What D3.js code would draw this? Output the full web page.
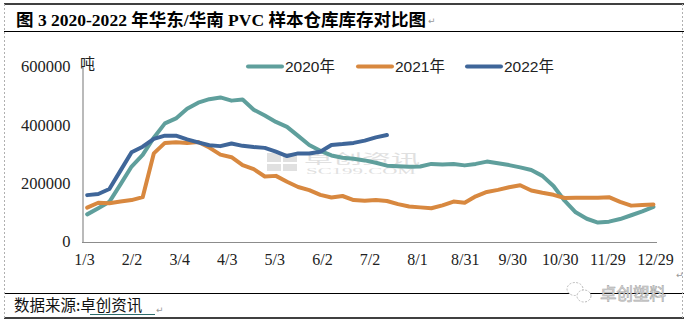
<!DOCTYPE html>
<html><head><meta charset="utf-8">
<script src="https://cdn.jsdelivr.net/npm/d3@7"></script>
<style>
html,body{margin:0;padding:0;background:#fff;}
svg{display:block;}
</style></head>
<body>
<svg id="chart" width="688" height="323"></svg>
<script>
// ---- data ----
const weekDates = ["1/5","1/12","1/19","1/26","2/2","2/9","2/16","2/23","3/2","3/9","3/16","3/23","3/30","4/6","4/13","4/20","4/27","5/4","5/11","5/18","5/25","6/1","6/8","6/15","6/22","6/29","7/6","7/13","7/20","7/27","8/3","8/10","8/17","8/24","8/31","9/7","9/14","9/21","9/28","10/5","10/12","10/19","10/26","11/2","11/9","11/16","11/23","11/30","12/7","12/14","12/21","12/28"];
const tickLabels = ["1/3","2/2","3/4","4/3","5/3","6/2","7/2","8/1","8/31","9/30","10/30","11/29","12/29"];
const yTicks = [0,200000,400000,600000];
const seriesNames = ["2020年","2021年","2022年"];
const values2020 = [93000,114000,136000,196000,257000,297000,356000,405000,422000,455000,476000,488000,494000,483000,487000,452000,432000,410000,393000,362000,331000,311000,295000,287000,284000,278000,270000,260000,258000,256000,257000,266000,264000,266000,261000,266000,274000,268000,262000,254000,245000,225000,190000,140000,100000,78000,65000,68000,77000,90000,103000,119000];
const values2021 = [116000,133000,131000,137000,142000,152000,302000,338000,340000,338000,341000,322000,298000,289000,262000,248000,223000,225000,205000,187000,176000,160000,151000,156000,142000,140000,142000,139000,128000,120000,117000,114000,124000,137000,133000,155000,170000,177000,186000,193000,175000,167000,160000,149000,150000,150000,150000,152000,136000,123000,125000,127000];
const values2022 = [159000,163000,180000,243000,306000,325000,352000,363000,363000,350000,340000,330000,327000,336000,328000,324000,321000,308000,293000,302000,302000,308000,331000,334000,338000,346000,357000,365000];
const colors = ["#5f9f9c","#d8883f","#3f6699"];

// ---- setup ----
const svg = d3.select("#chart");
const parse = s => d3.timeParse("%Y/%m/%d")("2021/" + s.split("/")[0] + "/" + s.split("/")[1]);
const x = d3.scaleTime().domain([parse("1/3"), parse("12/29")]).range([84, 655]);
const y = d3.scaleLinear().domain([0, 600000]).range([241.5, 66.5]);

// frame lines
svg.append("line").attr("x1",4).attr("x2",684).attr("y1",4).attr("y2",4).attr("stroke","#000").attr("stroke-width",1.5);
svg.append("line").attr("x1",4).attr("x2",684).attr("y1",31.5).attr("y2",31.5).attr("stroke","#000").attr("stroke-width",1);
svg.append("line").attr("x1",4).attr("x2",684).attr("y1",293.5).attr("y2",293.5).attr("stroke","#000").attr("stroke-width",1);
svg.append("line").attr("x1",4).attr("x2",684).attr("y1",318).attr("y2",318).attr("stroke","#000").attr("stroke-width",1.5);
[4.5, 682.5].forEach(xx => svg.append("line").attr("x1",xx).attr("x2",xx).attr("y1",4).attr("y2",318)
  .attr("stroke","#b0b0b0").attr("stroke-width",1).attr("stroke-dasharray","2,2"));

// title
svg.append("text").attr("x",16).attr("y",25.5)
  .attr("font-family","'Liberation Serif','Noto Sans CJK SC',serif").attr("font-weight","bold").attr("font-size",17.5)
  .attr("textLength",410).attr("lengthAdjust","spacingAndGlyphs")
  .text("图 3 2020-2022 年华东/华南 PVC 样本仓库库存对比图");
svg.append("text").attr("x",428).attr("y",24).attr("font-size",9).attr("fill","#999").attr("font-family","DejaVu Sans").text("↵");

// watermark in the middle
const wm = svg.append("g").attr("opacity",0.55);
wm.append("rect").attr("x",267).attr("y",153).attr("width",14).attr("height",9).attr("fill","#c8c8c8");
wm.append("rect").attr("x",283).attr("y",153).attr("width",14).attr("height",9).attr("fill","#c8c8c8");
wm.append("rect").attr("x",267).attr("y",164).attr("width",14).attr("height",7).attr("fill","#c8c8c8");
wm.append("rect").attr("x",283).attr("y",164).attr("width",14).attr("height",7).attr("fill","#c8c8c8");
wm.append("text").attr("x",304).attr("y",163).attr("font-family","'Noto Sans CJK SC'").attr("font-size",13)
  .attr("textLength",116).attr("lengthAdjust","spacingAndGlyphs").attr("fill","#c8c8c8").text("卓创资讯");
wm.append("text").attr("x",306).attr("y",174).attr("font-family","'Liberation Serif'").attr("font-size",8)
  .attr("textLength",110).attr("lengthAdjust","spacingAndGlyphs").attr("fill","#c8c8c8").text("SC199.COM");

// axes
const yAxis = d3.axisLeft(y).tickValues(yTicks).tickSize(0).tickPadding(12).tickFormat(d3.format("d"));
const gy = svg.append("g").attr("transform","translate(82.5,0)").call(yAxis);
gy.select(".domain").attr("stroke","#8c8c8c").attr("stroke-width",1.2);
gy.selectAll("text").attr("font-family","'Liberation Serif',serif").attr("font-size",16.5).attr("fill","#222");

const xAxis = d3.axisBottom(x).tickValues(tickLabels.map(parse)).tickSize(0).tickPadding(12)
  .tickFormat((d,i) => tickLabels[i]);
const gx = svg.append("g").attr("transform","translate(0,242)").call(xAxis);
gx.select(".domain").attr("stroke","#8c8c8c").attr("stroke-width",1.2).attr("d","M82,0.5H657");
gx.selectAll("text").attr("font-family","'Liberation Serif',serif").attr("font-size",16).attr("fill","#222");

// unit
svg.append("text").attr("x",80).attr("y",69).attr("font-family","'Noto Sans CJK SC'").attr("font-size",15).attr("fill","#222").text("吨");

// lines
const line = d3.line().x((d,i) => x(parse(weekDates[i]))).y(d => y(d));
[values2020, values2021, values2022].forEach((vals, s) => {
  svg.append("path").datum(vals).attr("d", line).attr("fill","none")
    .attr("stroke", colors[s]).attr("stroke-width",4).attr("stroke-linejoin","round").attr("stroke-linecap","round");
});

// legend
const legX = [248, 358, 467];
seriesNames.forEach((n, s) => {
  svg.append("line").attr("x1",legX[s]).attr("x2",legX[s]+34).attr("y1",66.5).attr("y2",66.5)
    .attr("stroke",colors[s]).attr("stroke-width",4).attr("stroke-linecap","round");
  svg.append("text").attr("x",legX[s]+37).attr("y",72).attr("font-family","'Liberation Sans','Noto Sans CJK SC',sans-serif")
    .attr("font-size",15.5).attr("fill","#222").text(n);
});

// paragraph mark right
svg.append("text").attr("x",676).attr("y",278).attr("font-size",9).attr("fill","#999").attr("font-family","DejaVu Sans").text("↵");

// source
const src = svg.append("text").attr("x",14).attr("y",311).attr("font-family","'Noto Sans CJK SC'").attr("font-size",15.5).attr("fill","#111");
src.append("tspan").text("数据来源:");
src.append("tspan").text("卓创资讯");
svg.append("line").attr("x1",90).attr("x2",155).attr("y1",314.5).attr("y2",314.5).attr("stroke","#2a6a6a").attr("stroke-width",1);
svg.append("text").attr("x",156).attr("y",313).attr("font-size",9).attr("fill","#999").attr("font-family","DejaVu Sans").text("↵");

// wechat watermark
const ww = svg.append("g");
ww.append("ellipse").attr("cx",575).attr("cy",289).attr("rx",8).attr("ry",6.5).attr("fill","#fff").attr("stroke","#bbb").attr("stroke-dasharray","2,1.5");
ww.append("ellipse").attr("cx",584).attr("cy",296).attr("rx",7).attr("ry",6).attr("fill","#fff").attr("stroke","#bbb").attr("stroke-dasharray","2,1.5");
ww.append("text").attr("x",600).attr("y",300).attr("font-family","'Noto Sans CJK SC'").attr("font-size",16.5)
  .attr("fill","#e6e6e6").attr("stroke","#a8a8a8").attr("stroke-width",0.6).text("卓创塑料");
</script>
</body></html>
